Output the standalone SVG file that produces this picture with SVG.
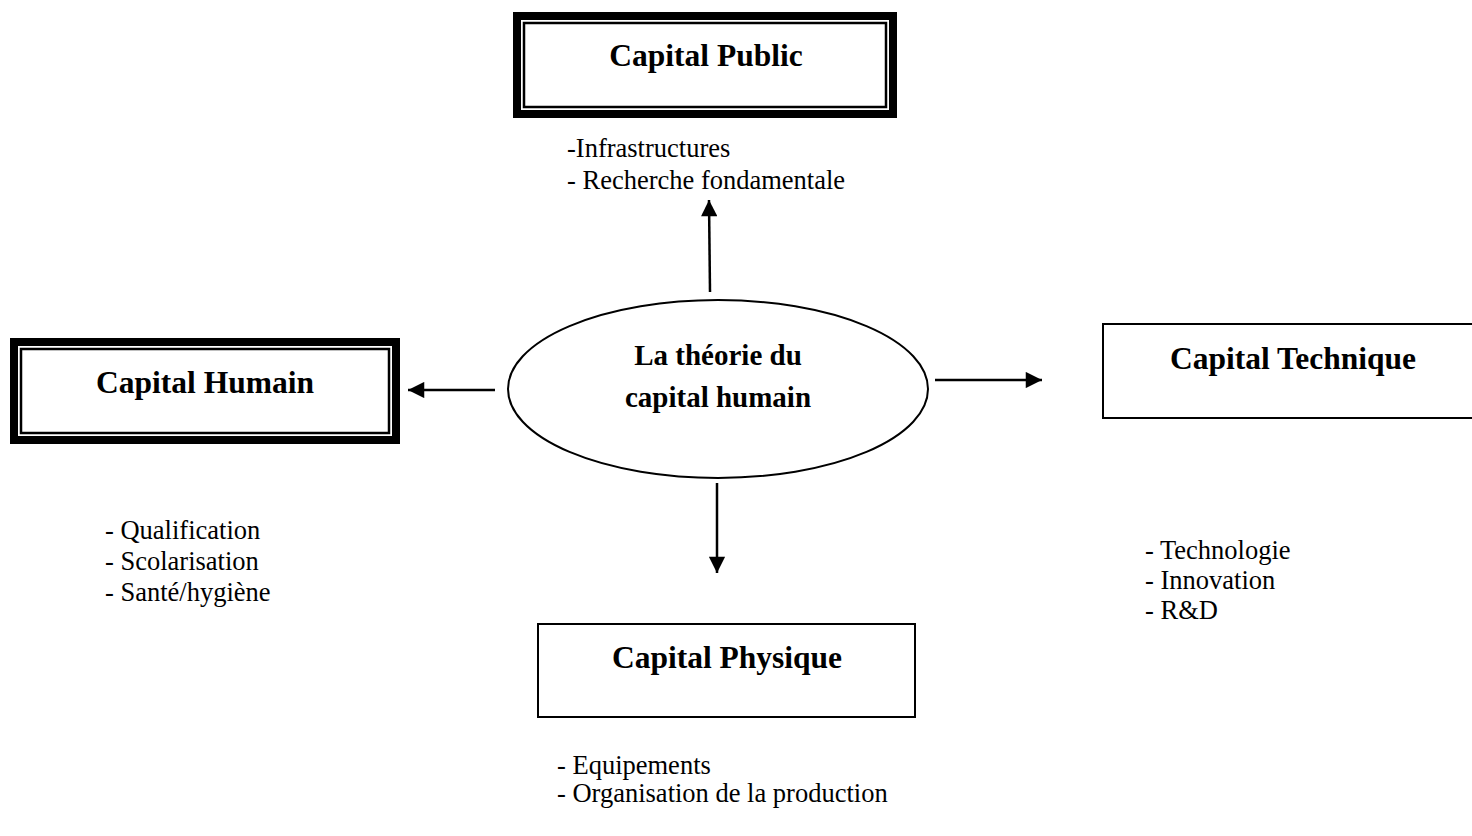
<svg xmlns="http://www.w3.org/2000/svg" width="1472" height="836" viewBox="0 0 1472 836">
<style>
.t{font-family:"Liberation Serif","Times New Roman",serif;font-size:26.5px;fill:#000}
.b{font-family:"Liberation Serif","Times New Roman",serif;font-size:31.5px;font-weight:bold;fill:#000;text-anchor:middle}
.e{font-family:"Liberation Serif","Times New Roman",serif;font-size:29px;font-weight:bold;fill:#000;text-anchor:middle}
.box{fill:#fff;stroke:#000;stroke-width:2}
.thin{fill:none;stroke:#000;stroke-width:2.5}
.conn{stroke:#000;stroke-width:2.5;fill:none}
</style>
<defs>
<marker id="ah" viewBox="0 0 10 10" refX="10" refY="5" markerWidth="7" markerHeight="6.5" markerUnits="strokeWidth" orient="auto">
<path d="M0,0 L10,5 L0,10 z" fill="#000"/>
</marker>
</defs>
<rect width="1472" height="836" fill="#fff"/>

<g id="capital-public">
<rect x="513" y="12" width="384" height="106" fill="#000"/>
<rect x="521" y="20" width="368" height="90" fill="#fff"/>
<rect x="524" y="23" width="362" height="84" class="thin"/>
<text x="706" y="66" class="b">Capital Public</text>
</g>
<g id="public-items">
<text x="567" y="157" class="t">-Infrastructures</text>
<text x="567" y="189" class="t">- Recherche fondamentale</text>
</g>

<g id="capital-humain">
<rect x="10" y="338" width="390" height="106" fill="#000"/>
<rect x="18" y="346" width="374" height="90" fill="#fff"/>
<rect x="21" y="349" width="368" height="84" class="thin"/>
<text x="205" y="393" class="b">Capital Humain</text>
</g>
<g id="humain-items">
<text x="105" y="539" class="t">- Qualification</text>
<text x="105" y="570" class="t">- Scolarisation</text>
<text x="105" y="601" class="t">- Santé/hygiène</text>
</g>

<g id="theorie">
<ellipse cx="718" cy="389" rx="210" ry="89" fill="#fff" stroke="#000" stroke-width="2"/>
<text x="718" y="365" class="e">La théorie du</text>
<text x="718" y="407" class="e">capital humain</text>
</g>

<g id="capital-technique">
<rect x="1103" y="324" width="380" height="94" class="box"/>
<text x="1293" y="369" class="b">Capital Technique</text>
</g>
<g id="technique-items">
<text x="1145" y="559" class="t">- Technologie</text>
<text x="1145" y="589" class="t">- Innovation</text>
<text x="1145" y="619" class="t">- R&amp;D</text>
</g>

<g id="capital-physique">
<rect x="538" y="624" width="377" height="93" class="box"/>
<text x="727" y="668" class="b">Capital Physique</text>
</g>
<g id="physique-items">
<text x="557" y="774" class="t">- Equipements</text>
<text x="557" y="802" class="t">- Organisation de la production</text>
</g>

<g id="connectors">
<line x1="710" y1="292" x2="709" y2="200" class="conn" marker-end="url(#ah)"/>
<line x1="495" y1="390" x2="408" y2="390" class="conn" marker-end="url(#ah)"/>
<line x1="935" y1="380" x2="1042" y2="380" class="conn" marker-end="url(#ah)"/>
<line x1="717" y1="483" x2="717" y2="573" class="conn" marker-end="url(#ah)"/>
</g>
</svg>
